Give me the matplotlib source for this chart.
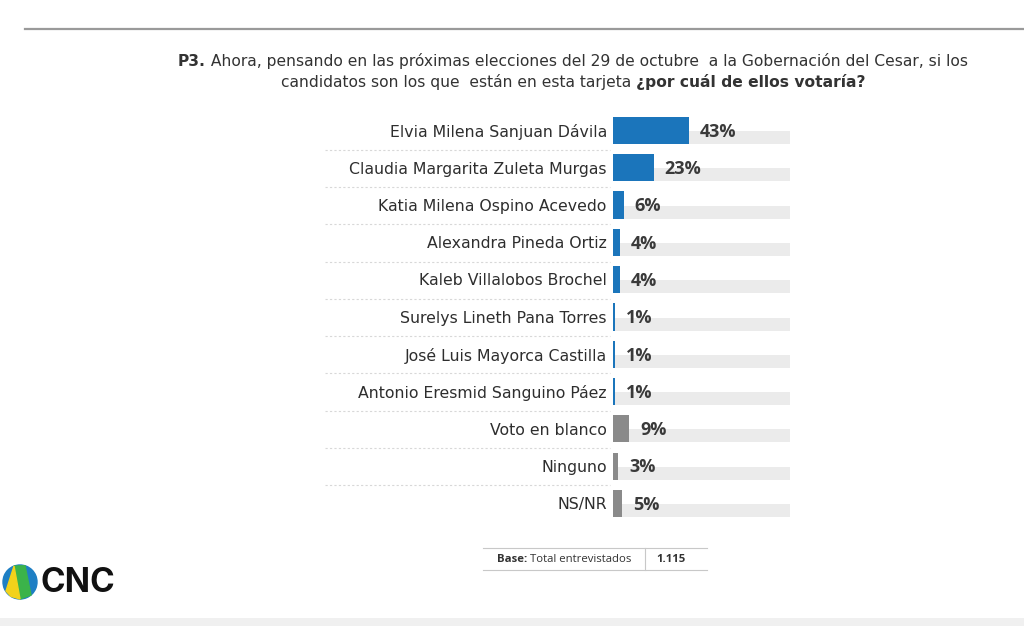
import matplotlib.pyplot as plt
from matplotlib.patches import Wedge, Rectangle, Polygon
from matplotlib.lines import Line2D

candidates = ['Elvia Milena Sanjuan Dávila', 'Claudia Margarita Zuleta Murgas',
              'Katia Milena Ospino Acevedo', 'Alexandra Pineda Ortiz',
              'Kaleb Villalobos Brochel', 'Surelys Lineth Pana Torres',
              'José Luis Mayorca Castilla', 'Antonio Eresmid Sanguino Páez',
              'Voto en blanco', 'Ninguno', 'NS/NR']
values = [43, 23, 6, 4, 4, 1, 1, 1, 9, 3, 5]
is_candidate = [True] * 8 + [False] * 3

BLUE = '#1b75bb'
GREY = '#8a8a8a'
TXT = '#3a3a3a'
FONT = 'DejaVu Sans'
VFONT = 'Open Sans'

W, H = 1024, 633
fig = plt.figure(figsize=(W / 100, H / 100), dpi=100)

def fx(px):
    return px / W

def fy(py):
    return 1 - py / H

# top rule and bottom band
fig.add_artist(Line2D([fx(25), 1], [fy(28.5), fy(28.5)], color='#9a9a9a', lw=1.6))
fig.add_artist(Rectangle((0, fy(626)), 1, fy(618) - fy(626), color='#f0f0f0', lw=0))

# title with mixed weights
renderer = fig.canvas.get_renderer()

def mixed_line(parts, cx, py, size=11.2):
    arts = []
    for s, w in parts:
        arts.append(fig.text(0, fy(py), s, fontsize=size, fontweight=w, family=FONT,
                             color='#333333', va='center', ha='left'))
    widths = [a.get_window_extent(renderer).width for a in arts]
    x = cx - sum(widths) / 2
    for a, wd in zip(arts, widths):
        a.set_x(fx(x))
        x += wd

mixed_line([('P3.', 'bold'),
            (' Ahora, pensando en las próximas elecciones del 29 de octubre  a la Gobernación del Cesar, si los', 'normal')],
           573, 61)
mixed_line([('candidatos son los que  están en esta tarjeta ', 'normal'),
            ('¿por cuál de ellos votaría?', 'bold')], 573, 82)

# chart axes
spacing = 37.3
top = 131 - spacing / 2
bottom = 504 + spacing / 2
ax = fig.add_axes([fx(613), fy(bottom), fx(790) - fx(613), (bottom - top) / H])
ax.set_xlim(0, 100)
ax.set_ylim(len(values) - 0.5, -0.5)
ax.axis('off')

rows = list(range(len(values)))
ax.barh(rows, [100] * len(values), left=0, height=0.35, align='edge', color='#ebebeb', lw=0)
colors = [BLUE if c else GREY for c in is_candidate]
ax.barh([r - 0.38 for r in rows], values, height=0.73, align='edge', color=colors, lw=0)

for r, name, v in zip(rows, candidates, values):
    ax.text(-3.5, r + 0.02, name, ha='right', va='center', fontsize=11.3, family=FONT,
            color='#2e2e2e', clip_on=False)
    ax.text(v + 6.2, r + 0.02, f'{v}%', ha='left', va='center', fontsize=13,
            fontweight='bold', family=VFONT, color=TXT, clip_on=False)

# dashed separators between rows
for r in rows[:-1]:
    yy = top + (r + 1) * spacing
    fig.add_artist(Line2D([fx(325), fx(610)], [fy(yy), fy(yy)], color='#d8d8d8',
                          lw=0.8, ls=(0, (2, 2))))

# base box
fig.add_artist(Line2D([fx(483), fx(707)], [fy(548), fy(548)], color='#c8c8c8', lw=0.8))
fig.add_artist(Line2D([fx(483), fx(707)], [fy(570), fy(570)], color='#c8c8c8', lw=0.8))
fig.add_artist(Line2D([fx(645), fx(645)], [fy(548), fy(570)], color='#c8c8c8', lw=0.8))
b1 = fig.text(fx(497), fy(559), 'Base:', fontsize=8.2, fontweight='bold', family=VFONT,
              color='#333333', va='center')
bw = b1.get_window_extent(renderer).width
fig.text(fx(497 + bw), fy(559), ' Total entrevistados', fontsize=8.2, family=VFONT,
         color='#333333', va='center')
fig.text(fx(671), fy(559), '1.115', fontsize=8.2, fontweight='bold', family=VFONT,
         color='#333333', va='center', ha='center')

# CNC logo
lax = fig.add_axes([0, fy(600), fx(40), 36 / H])
lax.set_xlim(-20, 20)
lax.set_ylim(-18, 18)
lax.set_aspect('equal')
lax.axis('off')
lax.add_patch(Wedge((0, 0), 17, 0, 360, color='#1e7fc4'))
lax.add_patch(Polygon([(-6, 15.9), (5, 16.2), (11, -13), (0, -17)], color='#3bb34a'))
lax.add_patch(Polygon([(-6, 15.9), (0, -17), (-9, -14.4), (-14, -9)], color='#f2d21b'))
fig.text(fx(40), fy(583), 'CNC', fontsize=24, fontweight='bold', family='Inter',
         color='#111111', va='center')

fig.savefig('out.png', dpi=100)
